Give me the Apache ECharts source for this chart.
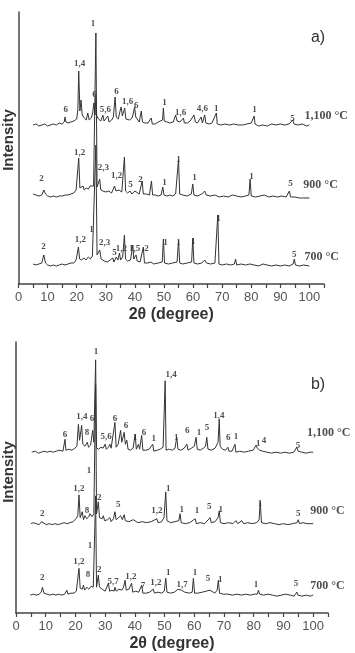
<!DOCTYPE html>
<html>
<head>
<meta charset="utf-8">
<script src="https://cdn.jsdelivr.net/npm/echarts/dist/echarts.min.js"></script>
<style>
  html, body { margin: 0; padding: 0; background: #fff; }
  #chart { width: 355px; height: 653px; }
</style>
</head>
<body>
<div id="chart"></div>
<script>
// x ticks
const xTicks = [0, 10, 20, 30, 40, 50, 60, 70, 80, 90, 100];

// panel a) traces: [2theta, intensity above own baseline]
const a1100 = [[5,0],[6,1],[7,-1],[8,0],[9,1],[10,-1],[11,0],[12,1],[13,0],[14,2],[15,1],[15.7,3],[16,8],[16.3,3],[17,2],[18,3],[19,4],[20,6],[20.4,15],[20.7,54],[21.1,14],[21.5,25],[21.9,10],[22.6,7],[23.3,5],[23.8,12],[24.3,5],[25,7],[25.5,12],[25.9,22],[26.3,10],[26.6,28],[26.9,9],[27.5,6],[28.3,4],[29,10],[29.4,4],[30,3],[30.7,9],[31.1,3],[32,5],[32.6,8],[33.2,28],[33.6,8],[34.3,6],[34.9,14],[35.3,18],[35.7,9],[36.1,13],[36.5,17],[36.9,6],[37.5,4],[38.2,5],[39,7],[39.5,12],[39.9,18],[40.3,8],[40.8,6],[41.5,3],[42.2,14],[42.6,3],[43.5,2],[44.5,2],[45.6,7],[46,1],[47,1],[48,3],[49.5,5],[49.8,17],[50.1,4],[51,3],[52,2],[53.2,3],[54,10],[54.5,4],[55.5,3],[56.7,7],[57,2],[58,2],[59,4],[60.3,10],[60.8,3],[61.5,2],[62.8,8],[63.2,2],[64,10],[64.4,2],[65.5,1],[66.5,2],[68,12],[68.3,1],[69.5,0],[71,1],[72.5,0],[74,1],[75.5,0],[77,0],[78.5,1],[80,2],[81,9],[81.3,1],[82.5,-1],[84,0],[85.5,-1],[87,1],[88.5,0],[90,1],[91.5,0],[93,1],[94.3,5],[94.7,1],[96,0],[97.5,1],[99,-1],[100,0]];
const a900 = [[5,2],[6,1],[7,0],[8,1],[8.7,6],[9.3,2],[10,0],[11,-1],[12,0],[13,-1],[14,0],[15,0],[16,1],[17,1],[18,2],[19,3],[19.8,6],[20.3,8],[20.7,38],[21.1,8],[21.7,7],[22.2,10],[22.6,6],[23.3,8],[24,7],[24.6,10],[25.2,8],[25.8,10],[26.2,9],[26.6,163],[27,9],[27.5,7],[27.9,17],[28.3,6],[29,5],[30,4],[31,5],[32,3],[33,10],[33.5,5],[34.5,6],[35.5,4],[36,6],[36.4,39],[36.8,5],[37.5,3],[38.3,5],[39,2],[40,5],[40.5,3],[41.5,2],[42.5,15],[42.9,2],[44,2],[45,1],[45.7,15],[46.1,1],[47,1],[48,0],[49,1],[49.6,9],[50,1],[51,0],[52,1],[53,0],[54,2],[55,37],[55.4,2],[56.5,1],[58,0],[59.4,2],[59.9,12],[60.3,1],[61.5,0],[63,2],[64,5],[64.5,1],[66,0],[67.5,1],[69,-1],[70.5,0],[72,-1],[73.5,1],[75,0],[76.5,-1],[78,0],[79.2,1],[79.6,17],[80,0],[81.5,-1],[83,0],[84.5,1],[86,-1],[87.5,0],[89,-1],[90.5,0],[92,-1],[93.1,5],[93.5,-1],[95,-1],[96.5,-2],[98,-2],[100,-2]];
const a700 = [[5,1],[6,0],[7,1],[8,2],[8.7,10],[9.3,2],[10,0],[11,-1],[12,0],[13,-1],[14,0],[15,1],[16,0],[17,1],[18,2],[19,2],[19.8,5],[20.2,4],[20.6,18],[21,6],[21.7,5],[22.5,7],[23.2,5],[24,8],[24.7,6],[25.4,9],[26,8],[26.6,120],[27,10],[27.5,8],[27.9,15],[28.4,6],[29.5,4],[30.5,3],[31.5,5],[32.4,7],[32.8,3],[33.6,8],[34.2,5],[34.7,12],[35.1,5],[35.8,8],[36.4,30],[36.8,6],[37.5,4],[38.5,5],[39.3,20],[39.6,6],[40.4,10],[40.8,4],[41.8,3],[42.9,18],[43.3,2],[44.5,2],[45.5,3],[46.5,1],[48,2],[49.4,3],[49.8,26],[50.2,2],[51.5,1],[53,2],[54.5,3],[55,25],[55.4,2],[56.5,1],[58,2],[59.5,3],[59.9,27],[60.3,2],[61.5,1],[63,2],[64,5],[64.6,2],[66,1],[67.5,2],[68.5,50],[68.9,1],[70,0],[71.5,1],[73,0],[74.2,1],[74.6,6],[75,0],[76.5,1],[78,0],[79.5,1],[81,0],[82.5,-1],[84,1],[85.5,0],[87,-1],[88.5,0],[90,-1],[91.5,0],[93,-1],[94.4,1],[94.8,6],[95.2,0],[96.5,-1],[98,0],[100,-1]];

// panel b) traces
const b1100 = [[5.3,0],[6.5,1],[7.5,-1],[8.5,0],[9.5,1],[10.5,0],[11.5,1],[12.5,0],[13.5,1],[14.5,2],[15.8,1],[16.2,3],[16.5,13],[16.8,2],[17.8,3],[18.8,2],[19.8,4],[20.5,6],[21,28],[21.4,12],[22.1,27],[22.5,8],[23.2,6],[24,10],[24.4,5],[25.1,7],[25.8,22],[26.2,10],[26.8,93],[27.1,4],[27.8,3],[28.6,5],[29.3,4],[30,8],[30.4,3],[31.1,5],[31.6,8],[32,4],[32.6,5],[33.3,30],[33.7,5],[34.4,8],[35.2,22],[35.6,10],[36.4,20],[36.8,8],[37.3,12],[37.7,3],[38.5,2],[39.4,4],[40.1,18],[40.5,3],[41.2,8],[41.6,3],[42.3,17],[42.7,2],[43.7,2],[44.8,3],[46,8],[46.4,1],[47.5,2],[48.5,3],[49.5,5],[50.2,72],[50.5,2],[51.4,3],[52.6,2],[53.5,4],[54.1,15],[54.5,3],[55.5,2],[56.6,4],[57.5,8],[57.9,2],[59,4],[60,6],[60.6,15],[61,3],[62,2],[63,4],[63.8,6],[64.2,15],[64.6,3],[65.8,2],[67,4],[68,10],[68.4,33],[68.7,6],[69.5,3],[70.5,2],[71.3,5],[71.7,1],[72.7,1],[73.7,8],[74,0],[75.3,1],[76.8,0],[78.3,1],[79.8,2],[80.8,7],[81.2,4],[82,2],[83,1],[84.5,0],[86,-1],[87.5,0],[89,-1],[90.5,0],[92,-1],[93.5,0],[94.5,5],[94.9,1],[96.2,0],[97.6,-1],[99,0],[100,0]];
const b900 = [[5,0],[5.8,1],[6.8,0],[7.8,-1],[8.6,2],[9.2,1],[10.2,-1],[11.2,0],[12.2,-1],[13.2,0],[14.2,-1],[15.2,0],[16.2,1],[17.2,0],[18.2,1],[19.2,2],[20.2,5],[20.8,8],[21.2,29],[21.6,6],[22.3,12],[22.7,4],[23.2,8],[23.8,5],[24.5,7],[24.9,10],[25.6,7],[26.2,10],[26.8,140],[27.1,10],[27.7,22],[28.1,6],[29,5],[29.4,8],[29.8,3],[30.8,4],[31.6,6],[32,2],[32.8,5],[33.3,12],[33.7,4],[34.5,6],[35.2,8],[35.8,4],[36.4,9],[36.8,3],[38,2],[39.5,4],[41,1],[42.5,2],[44,1],[45.5,2],[47.4,5],[47.8,1],[49,2],[49.8,6],[50.4,32],[50.8,3],[52,1],[53.5,2],[54.8,3],[55.2,10],[55.6,1],[57,0],[58.5,1],[60.3,5],[60.7,0],[62,1],[63.5,0],[65.3,6],[65.7,1],[67,2],[68,6],[68.4,13],[68.8,1],[70,0],[71.5,1],[73,0],[74,3],[74.6,0],[76,3],[76.6,0],[78,1],[79.5,0],[81,1],[81.8,4],[82.2,22],[82.6,1],[84,0],[85.5,1],[87,0],[88.5,-1],[90,0],[91.5,-1],[93,0],[94.6,1],[95,4],[95.4,0],[96.6,1],[98,0],[100,0]];
const b700 = [[4.8,0],[5.8,1],[6.8,0],[7.8,1],[8.5,3],[8.9,8],[9.4,2],[10.4,1],[11.4,0],[12.4,1],[13.4,0],[14.4,1],[15.4,0],[16.4,1],[17.1,5],[17.5,1],[18.5,2],[19.5,2],[20.3,4],[20.8,6],[21.2,27],[21.6,7],[22.3,6],[22.7,10],[23.1,5],[23.8,8],[24.5,6],[25.3,9],[26,8],[26.4,10],[26.8,100],[27.1,8],[27.7,20],[28.1,8],[29,6],[30,4],[30.6,5],[31.1,12],[31.5,4],[32.3,5],[33,4],[33.3,8],[33.7,4],[34.6,6],[35.6,5],[36.2,8],[36.7,15],[37.1,5],[38,6],[38.6,4],[38.9,12],[39.3,3],[40.3,4],[41.3,3],[42.3,10],[42.7,2],[43.8,2],[45,3],[46.2,6],[46.6,2],[47.8,3],[49,2],[49.9,4],[50.4,17],[50.8,3],[52,2],[53.3,3],[54.5,6],[55.1,8],[55.7,5],[56.8,3],[58.3,2],[59.3,3],[59.7,17],[60.1,2],[61.2,2],[62.7,3],[64,4],[65.3,5],[65.9,3],[66.9,2],[67.7,5],[68.1,15],[68.5,2],[69.8,1],[71.3,1],[72.8,0],[74.3,1],[75.8,0],[77.3,1],[78.8,0],[80.3,1],[81.2,1],[81.6,5],[82,1],[83.3,0],[84.8,1],[86.3,0],[87.8,-1],[89.3,0],[90.8,1],[92.3,0],[93.6,-1],[94.5,3],[94.9,0],[96.2,-1],[97.7,0],[99,-1],[100,0]];

// peak phase labels: [2theta, height above own baseline, text]
const a1100Peaks = [[16.2,15,'6'],[21.0,61,'1,4'],[26.1,30,'6'],[29.9,15,'5,6'],[33.7,33,'6'],[37.5,23,'1,6'],[40.5,19,'6'],[50.2,22,'1'],[55.7,12,'1,6'],[63.2,16,'4,6'],[68.0,16,'1'],[81.1,15,'1'],[94.2,6,'5']];
const a900Peaks = [[25.6,172,'1'],[7.9,17,'2'],[21.0,43,'1,2'],[29.2,28,'2,3'],[33.7,20,'1,2'],[38.5,11,'5'],[41.9,16,'2'],[50.2,13,'1'],[55.0,36,'1'],[60.5,18,'1'],[80.1,19,'1'],[93.5,12,'5']];
const a700Peaks = [[8.6,18,'2'],[21.3,25,'1,2'],[25.1,35,'1'],[29.6,22,'2,3'],[33.0,12,'5'],[35.4,16,'1,2'],[39.9,16,'1,5'],[44.0,16,'2'],[50.5,22,'1'],[55.0,22,'1'],[60.1,23,'1'],[68.7,46,'1'],[94.8,10,'5']];
const b1100Peaks = [[26.9,101,'1'],[16.5,18,'6'],[22.2,36,'1,4'],[23.9,20,'8'],[25.6,34,'6'],[30.3,16,'5,6'],[33.3,34,'6'],[37.0,27,'6'],[40.1,15,'1'],[43.1,20,'6'],[46.4,14,'1'],[52.2,78,'1,4'],[53.9,15,'1'],[57.6,22,'6'],[61.6,20,'1'],[64.3,25,'5'],[68.3,37,'1,4'],[71.4,15,'6'],[74.0,16,'1'],[81.5,9,'1'],[83.5,12,'4'],[94.9,7,'5']];
const b900Peaks = [[24.6,53,'1'],[8.8,10,'2'],[21.2,35,'1,2'],[23.9,13,'8'],[28.0,26,'2'],[34.4,19,'5'],[47.4,13,'1,2'],[51.2,35,'1'],[55.8,14,'1'],[60.9,13,'1'],[65.0,17,'5'],[68.9,14,'1'],[82.1,20,'1'],[95.0,10,'5']];
const b700Peaks = [[8.8,18,'2'],[21.2,34,'1,2'],[24.2,21,'8'],[24.9,50,'1'],[28.0,26,'2'],[32.7,14,'5,7'],[38.7,19,'1,2'],[42.7,10,'7'],[47.1,13,'1,2'],[51.2,23,'1'],[55.9,11,'1,7'],[60.2,23,'1'],[64.6,17,'5'],[68.7,16,'1'],[80.8,11,'1'],[94.2,12,'5']];

// temperature tags: [2theta, height above own baseline, text]
const aTemps = [[98.3,9,'1,100 °C'],[97.9,11,'900 °C'],[98.3,8,'700 °C']];
const bTemps = [[97.9,19,'1,100 °C'],[99.0,13,'900 °C'],[99.0,9,'700 °C']];

// vertical stacking offsets (same units as the axis)
const aOffsets = [159, 88, 19];
const bOffsets = [162, 90, 18];

const chart = echarts.init(document.getElementById('chart'));

const lift = (pts, off) => pts.map((p) => [p[0], p[1] + off, p[2]]);

const axisColor = '#444';
const makeX = (gi) => ({
  type: 'value', gridIndex: gi, min: 0, max: 105, interval: 5,
  name: '2θ (degree)', nameLocation: 'middle', nameGap: 23,
  nameTextStyle: { fontFamily: 'Liberation Sans', fontWeight: 'bold', fontSize: 16, color: '#333' },
  axisLine: { lineStyle: { color: axisColor, width: 1.5 } },
  axisTick: { show: true, length: 4, lineStyle: { color: axisColor, width: 1.2 } },
  axisLabel: {
    margin: 7, fontFamily: 'Liberation Sans', fontSize: 13, color: '#555',
    formatter: (v) => (xTicks.indexOf(v) >= 0 ? String(v) : ''),
  },
  splitLine: { show: false },
});
const makeY = (gi, max) => ({
  type: 'value', gridIndex: gi, min: 0, max: max,
  axisLine: { show: true, lineStyle: { color: axisColor, width: 1.5 } },
  axisTick: { show: false }, axisLabel: { show: false }, splitLine: { show: false },
});

const traceSeries = (pts, off, gi) => ({
  type: 'line', xAxisIndex: gi, yAxisIndex: gi,
  data: lift(pts, off), showSymbol: false, silent: true,
  lineStyle: { color: '#333', width: 1 },
});
const labelSeries = (pts, off, gi, size, align) => ({
  type: 'scatter', xAxisIndex: gi, yAxisIndex: gi,
  data: lift(pts, off), symbolSize: 1, itemStyle: { color: 'rgba(0,0,0,0)' }, silent: true,
  label: {
    show: true, position: 'inside', align: align,
    formatter: (p) => p.value[2],
    fontFamily: 'Liberation Serif', fontWeight: 'bold', fontSize: size, color: '#222',
  },
});

const series = [];
[a1100, a900, a700].forEach((t, i) => series.push(traceSeries(t, aOffsets[i], 0)));
[b1100, b900, b700].forEach((t, i) => series.push(traceSeries(t, bOffsets[i], 1)));
[a1100Peaks, a900Peaks, a700Peaks].forEach((t, i) => series.push(labelSeries(t, aOffsets[i], 0, 9, 'center')));
[b1100Peaks, b900Peaks, b700Peaks].forEach((t, i) => series.push(labelSeries(t, bOffsets[i], 1, 9, 'center')));
aTemps.forEach((t, i) => series.push(labelSeries([t], aOffsets[i], 0, 12, 'left')));
bTemps.forEach((t, i) => series.push(labelSeries([t], bOffsets[i], 1, 12, 'left')));

const option = {
  animation: false,
  grid: [
    { left: 18.5, top: 12, width: 305.5, height: 272 },
    { left: 16, top: 342, width: 312, height: 273 },
  ],
  xAxis: [makeX(0), makeX(1)],
  yAxis: [makeY(0, 272), makeY(1, 273)],
  graphic: [
    { type: 'text', x: 9, y: 140, rotation: Math.PI / 2,
      style: { text: 'Intensity', font: 'bold 15px "Liberation Sans"', fill: '#333', align: 'center', verticalAlign: 'middle' } },
    { type: 'text', x: 9, y: 472, rotation: Math.PI / 2,
      style: { text: 'Intensity', font: 'bold 15px "Liberation Sans"', fill: '#333', align: 'center', verticalAlign: 'middle' } },
    { type: 'text', x: 318, y: 38,
      style: { text: 'a)', font: '16px "Liberation Sans"', fill: '#333', align: 'center', verticalAlign: 'middle' } },
    { type: 'text', x: 318, y: 385,
      style: { text: 'b)', font: '16px "Liberation Sans"', fill: '#333', align: 'center', verticalAlign: 'middle' } },
  ],
  series: series,
};
chart.setOption(option);
</script>
</body>
</html>
